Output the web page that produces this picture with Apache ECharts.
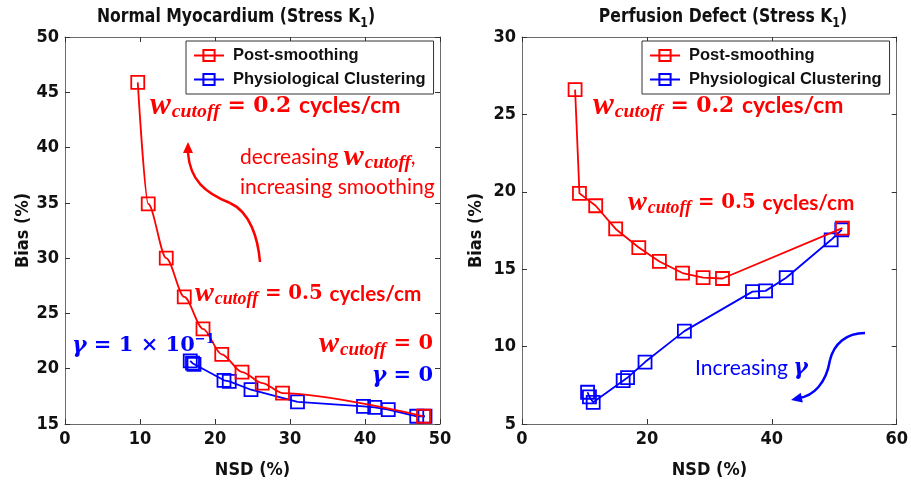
<!DOCTYPE html>
<html>
<head>
<meta charset="utf-8">
<script src="https://cdn.jsdelivr.net/npm/echarts@6/dist/echarts.min.js"></script>
<style>
  html, body { margin: 0; padding: 0; background: #fff; }
  #chart { width: 911px; height: 484px; }
</style>
</head>
<body>
<div id="chart"></div>
<script>
// Normal myocardium: NSD (%) vs bias (%)
const normalPostNSD  = [9.7, 11.1, 13.5, 15.9, 18.4, 20.9, 23.6, 26.3, 29.0, 47.8];
const normalPostBias = [45.9, 34.9, 30.0, 26.5, 23.6, 21.3, 19.7, 18.7, 17.8, 15.7];
const normalClusNSD  = [16.7, 17.0, 17.2, 21.2, 21.9, 24.8, 31.0, 39.8, 41.3, 43.1, 46.9, 48.0];
const normalClusBias = [20.7, 20.5, 20.4, 18.95, 18.85, 18.1, 17.0, 16.6, 16.5, 16.3, 15.7, 15.7];

// Perfusion defect: NSD (%) vs bias (%)
const defectPostNSD  = [8.5, 9.2, 11.8, 15.0, 18.7, 22.0, 25.7, 29.0, 32.1, 51.3];
const defectPostBias = [26.6, 19.9, 19.1, 17.6, 16.4, 15.5, 14.75, 14.45, 14.4, 17.65];
const defectClusNSD  = [10.5, 10.8, 11.4, 16.2, 16.9, 19.7, 26.0, 36.9, 39.0, 42.3, 49.5, 51.2];
const defectClusBias = [7.05, 6.75, 6.4, 7.8, 8.0, 9.0, 11.0, 13.55, 13.6, 14.45, 16.9, 17.55];

// Axis ranges and ticks
const normalX = { min: 0, max: 50, interval: 10 };
const normalY = { min: 15, max: 50, interval: 5 };
const defectX = { min: 0, max: 60, interval: 20 };
const defectY = { min: 5, max: 30, interval: 5 };

const seriesNames = ['Post-smoothing', 'Physiological Clustering'];
const RED = '#ff0000', BLUE = '#0000ff';
const AXIS_FONT = '"Liberation Sans Narrow", "DejaVu Sans Condensed", "Liberation Sans", sans-serif';
const NAME_STYLE = { fontSize: 18, fontWeight: 'bold', fontFamily: AXIS_FONT, color: '#111' };

const zip = (xs, ys) => xs.map((x, i) => [x, ys[i]]);

function axisBase(range, extra) {
  return Object.assign({
    type: 'value', min: range.min, max: range.max, interval: range.interval,
    splitLine: { show: false },
    axisLine: { show: true, onZero: false, lineStyle: { color: '#6b6b6b', width: 1 } },
    axisTick: { show: true, inside: true, length: 5, lineStyle: { color: '#333' } },
    axisLabel: { color: '#111', fontSize: 18, fontWeight: 'bold', fontFamily: AXIS_FONT, margin: 6 }
  }, extra);
}
function mirrorAxis(range, extra) {
  return axisBase(range, Object.assign({ axisLabel: { show: false } }, extra));
}

function lineSeries(name, color, xi, yi, data, smooth) {
  return {
    name, type: 'line', xAxisIndex: xi, yAxisIndex: yi, data,
    symbol: 'rect', symbolSize: 13, smooth: smooth || false,
    smoothMonotone: smooth ? 'x' : undefined,
    lineStyle: { color, width: 1.8 },
    itemStyle: { color: 'rgba(255,255,255,0)', borderColor: color, borderWidth: 1.8 },
    emphasis: { disabled: true }, z: color === RED ? 3 : 2
  };
}

const grids = [
  { left: 65, top: 37, width: 375, height: 394 },
  { left: 522, top: 37, width: 375, height: 394 }
];

const legendCommon = {
  orient: 'vertical', data: seriesNames,
  backgroundColor: '#fff', borderColor: '#333', borderWidth: 1,
  padding: [6, 8, 6, 7], itemGap: 7, itemWidth: 30, itemHeight: 14,
  textStyle: { color: '#111', fontSize: 16.5, fontWeight: 'bold', fontFamily: '"Liberation Sans", Arial, sans-serif', padding: [0, 0, 0, 4] }
};

// Math-like annotation text styles (zrender rich styles use fill)
const mathRich = (fill) => ({
  w: { fontFamily: '"Liberation Serif", serif', fontStyle: 'italic', fontWeight: 'bold', fontSize: 30, fill },
  sub: { fontFamily: '"Liberation Serif", serif', fontStyle: 'italic', fontWeight: 'bold', fontSize: 19, fill, padding: [12, 0, 0, 1] },
  eq: { fontFamily: '"DejaVu Serif", serif', fontWeight: 'bold', fontSize: 21, fill },
  unit: { fontFamily: 'Lato, "Open Sans", sans-serif', fontWeight: 'bold', fontSize: 22, fill },
  plain: { fontFamily: 'Lato, "Open Sans", sans-serif', fontSize: 21, fill },
  g: { fontFamily: '"DejaVu Serif", serif', fontStyle: 'italic', fontWeight: 'bold', fontSize: 22, fill },
  sup: { fontFamily: '"DejaVu Serif", serif', fontWeight: 'bold', fontSize: 13, fill, padding: [0, 0, 12, 0] }
});

function note(x, y, text, color, align, scale) {
  const s = scale || 1;
  return {
    type: 'text', x, y, z: 10, scaleX: s, scaleY: s,
    style: { text, fill: color, rich: mathRich(color), align: align || 'left', verticalAlign: 'middle' }
  };
}

function title(x, text) {
  return {
    type: 'text', x, y: 17, z: 10, scaleX: 0.87,
    style: {
      text: '{t|' + text + '}{s|1}{t|)}', align: 'center', verticalAlign: 'middle', fill: '#111',
      rich: {
        t: { fontFamily: AXIS_FONT, fontWeight: 'bold', fontSize: 20, fill: '#111' },
        s: { fontFamily: AXIS_FONT, fontWeight: 'bold', fontSize: 14, fill: '#111', padding: [12, 0, 0, 0] }
      }
    }
  };
}

function curve(p0, c1, c2, p1, color) {
  return {
    type: 'bezierCurve', z: 10,
    shape: { x1: p0[0], y1: p0[1], cpx1: c1[0], cpy1: c1[1], cpx2: c2[0], cpy2: c2[1], x2: p1[0], y2: p1[1] },
    style: { stroke: color, lineWidth: 2.5, fill: null }
  };
}

function arrowHead(tip, angleDeg, color) {
  const a = angleDeg * Math.PI / 180, L = 11, W = 5;
  const bx = tip[0] - L * Math.cos(a), by = tip[1] - L * Math.sin(a);
  const nx = -Math.sin(a) * W, ny = Math.cos(a) * W;
  return {
    type: 'polygon', z: 10,
    shape: { points: [tip, [bx + nx, by + ny], [bx - nx, by - ny]] },
    style: { fill: color }
  };
}

const option = {
  animation: false,
  backgroundColor: '#fff',
  grid: grids,
  xAxis: [
    axisBase(normalX, { gridIndex: 0, position: 'bottom',
      name: 'NSD (%)', nameLocation: 'middle', nameGap: 37, nameTextStyle: NAME_STYLE }),
    axisBase(defectX, { gridIndex: 1, position: 'bottom',
      name: 'NSD (%)', nameLocation: 'middle', nameGap: 37, nameTextStyle: NAME_STYLE }),
    mirrorAxis(normalX, { gridIndex: 0, position: 'top' }),
    mirrorAxis(defectX, { gridIndex: 1, position: 'top' })
  ],
  yAxis: [
    axisBase(normalY, { gridIndex: 0, position: 'left',
      name: 'Bias (%)', nameLocation: 'middle', nameGap: 28, nameTextStyle: NAME_STYLE }),
    axisBase(defectY, { gridIndex: 1, position: 'left',
      name: 'Bias (%)', nameLocation: 'middle', nameGap: 37, nameTextStyle: NAME_STYLE }),
    mirrorAxis(normalY, { gridIndex: 0, position: 'right' }),
    mirrorAxis(defectY, { gridIndex: 1, position: 'right' })
  ],
  legend: [
    Object.assign({ left: 186, top: 41 }, legendCommon),
    Object.assign({ left: 642, top: 41 }, legendCommon)
  ],
  series: [
    lineSeries(seriesNames[1], BLUE, 0, 0, zip(normalClusNSD, normalClusBias)),
    lineSeries(seriesNames[0], RED, 0, 0, zip(normalPostNSD, normalPostBias), 0.3),
    lineSeries(seriesNames[0], RED, 1, 1, zip(defectPostNSD, defectPostBias)),
    lineSeries(seriesNames[1], BLUE, 1, 1, zip(defectClusNSD, defectClusBias))
  ],
  graphic: [
    title(236, 'Normal Myocardium (Stress K'),
    title(723, 'Perfusion Defect (Stress K'),

    // Normal myocardium annotations
    note(150, 106, '{w|w}{sub|cutoff}{eq| = 0.2 }{unit|cycles/cm}', RED, 'left', 1.04),
    note(240, 157, '{plain|decreasing }{w|w}{sub|cutoff}{plain|,}', RED),
    note(240, 187, '{plain|increasing smoothing}', RED),
    note(195, 294, '{w|w}{sub|cutoff}{eq| = 0.5 }{unit|cycles/cm}', RED, 'left', 0.94),
    note(72, 346, '{g|γ}{eq| = 1 × 10}{sup|−1}', BLUE),
    note(433, 344, '{w|w}{sub|cutoff}{eq| = 0}', RED, 'right'),
    note(433, 376, '{g|γ}{eq| = 0}', BLUE, 'right'),
    curve([260, 262], [258, 238], [250, 212], [230, 203], RED),
    curve([230, 203], [205, 193], [190, 180], [188, 153], RED),
    arrowHead([188, 142], -90, RED),

    // Perfusion defect annotations
    note(593, 106, '{w|w}{sub|cutoff}{eq| = 0.2 }{unit|cycles/cm}', RED, 'left', 1.04),
    note(628, 203, '{w|w}{sub|cutoff}{eq| = 0.5 }{unit|cycles/cm}', RED, 'left', 0.94),
    note(695, 368, '{plain|Increasing }{g|γ}', BLUE),
    curve([865, 333], [846, 333], [834, 344], [830, 360], BLUE),
    curve([830, 360], [826, 384], [813, 396], [799, 398], BLUE),
    arrowHead([791, 400], 168, BLUE)
  ]
};

const chart = echarts.init(document.getElementById('chart'), null, { renderer: 'canvas' });
chart.setOption(option);
</script>
</body>
</html>
